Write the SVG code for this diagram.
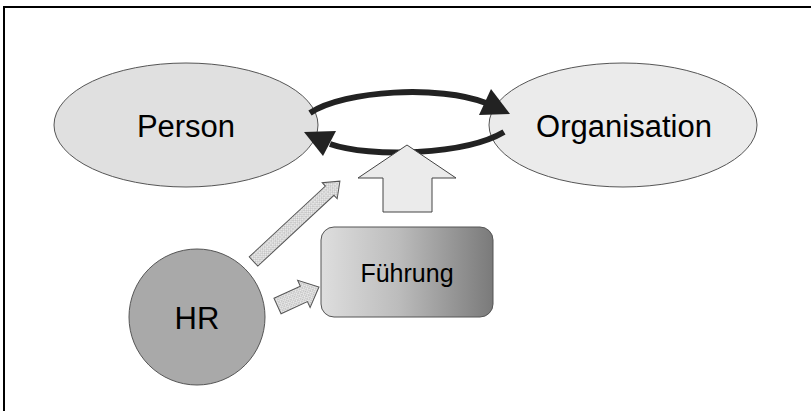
<svg xmlns="http://www.w3.org/2000/svg" width="811" height="411" viewBox="0 0 811 411">
  <style>
    .lbl { font-family: "Liberation Sans", Arial, sans-serif; fill: #000; text-anchor: middle; }
    .node { stroke: #555; stroke-width: 1; }
    .flow { fill: none; stroke: #222; stroke-width: 6; }
    .head { fill: #222; }
    .hatch { fill: url(#cross); stroke: #555; stroke-width: 1; }
  </style>
  <defs>
    <linearGradient id="fuehrungFill" x1="0" y1="0" x2="1" y2="0">
      <stop offset="0" stop-color="#dedede"/>
      <stop offset="0.45" stop-color="#bcbcbc"/>
      <stop offset="1" stop-color="#7a7a7a"/>
    </linearGradient>
    <pattern id="cross" width="3" height="3" patternUnits="userSpaceOnUse">
      <rect width="3" height="3" fill="#ececec"/>
      <path d="M0,0 L3,3 M3,0 L0,3" stroke="#b4b4b4" stroke-width="0.6"/>
    </pattern>
  </defs>

  <rect width="811" height="411" fill="#fff"/>
  <!-- frame -->
  <path d="M4,411 V7 H811" fill="none" stroke="#000" stroke-width="2"/>

  <g id="person">
    <ellipse class="node" cx="186" cy="125" rx="132" ry="62" fill="#e0e0e0"/>
    <text class="lbl" x="186" y="137" font-size="31">Person</text>
  </g>

  <g id="organisation">
    <ellipse class="node" cx="623" cy="125" rx="134" ry="62" fill="#ebebeb"/>
    <text class="lbl" x="624" y="137" font-size="31">Organisation</text>
  </g>

  <g id="fuehrung">
    <rect class="node" x="321" y="227" width="172" height="90" rx="13" ry="13" fill="url(#fuehrungFill)"/>
    <text class="lbl" x="407" y="282" font-size="25">Führung</text>
  </g>

  <g id="hr">
    <circle class="node" cx="197" cy="317" r="68" fill="#a9a9a9"/>
    <text class="lbl" x="197" y="329" font-size="31">HR</text>
  </g>

  <g id="connectors">
    <!-- Person to Organisation -->
    <path class="flow" d="M310,113 C345,90 440,85 486,103"/>
    <polygon class="head" points="491,89 479,115 510,114"/>
    <!-- Organisation to Person -->
    <path class="flow" d="M504,132 C465,155 370,158 330,144"/>
    <polygon class="head" points="336,131 323,156 304,132"/>
    <!-- Führung pushes upward -->
    <polygon points="407,145 456,178 432,178 432,212 383,212 383,178 358,178" fill="#ebebeb" stroke="#444" stroke-width="1"/>
    <!-- HR towards the relationship -->
    <polygon class="hatch" transform="translate(253.5,261.5) rotate(-42.9)" points="0,-6.3 104,-6.3 104,-11 118,0 104,11 104,6.3 0,6.3"/>
    <!-- HR towards Führung -->
    <polygon class="hatch" transform="translate(277.5,306) rotate(-24.6)" points="0,-8.5 29,-8.5 29,-15 45.6,0 29,15 29,8.5 0,8.5"/>
  </g>
</svg>
